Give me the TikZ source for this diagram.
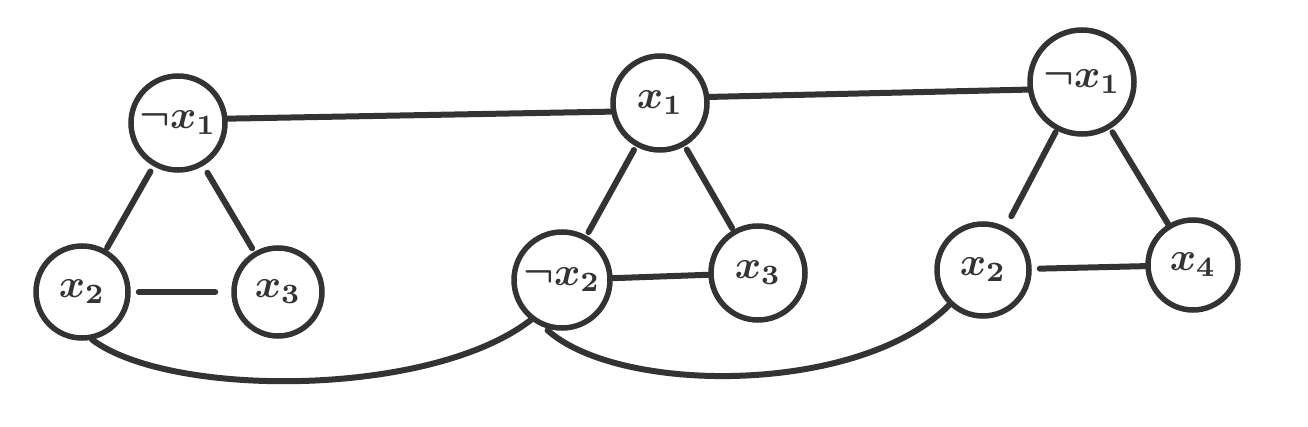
\documentclass[tikz,border=0pt]{standalone}
\usetikzlibrary{calc}
\definecolor{ink}{HTML}{333333}
\newcommand{\lbl}[1]{\scalebox{4}{\boldmath$#1$}}
\begin{document}
\begin{tikzpicture}[x=1pt,y=1pt,
  vnode/.style={circle,draw=ink,line width=5.5pt,inner sep=0pt,text=ink},
  edge/.style={draw=ink,line width=6pt,line cap=round}]
\useasboundingbox (0,0) rectangle (1308,426);
% triangle 1
\node[vnode,minimum size=94pt] (na1) at (178,303) {\lbl{\neg x_1}};
\node[vnode,minimum size=92pt] (x2a) at (82,134) {\lbl{x_2}};
\node[vnode,minimum size=88pt] (x3a) at (278,134) {\lbl{x_3}};
% triangle 2
\node[vnode,minimum size=94pt] (x1b) at (660,323) {\lbl{x_1}};
\node[vnode,minimum size=96pt] (nx2b) at (562,146) {\lbl{\neg x_2}};
\node[vnode,minimum size=94pt] (x3b) at (758,153) {\lbl{x_3}};
% triangle 3
\node[vnode,minimum size=104pt] (na1c) at (1082,344) {\lbl{\neg x_1}};
\node[vnode,minimum size=92pt] (x2c) at (983,156) {\lbl{x_2}};
\node[vnode,minimum size=90pt] (x4c) at (1193,161) {\lbl{x_4}};
% triangle edges
\draw[edge,shorten <=6pt,shorten >=2pt] (na1) -- (x2a);
\draw[edge,shorten <=8pt,shorten >=4pt] (na1) -- (x3a);
\draw[edge,shorten <=8pt,shorten >=16pt] (x2a) -- (x3a);
\draw[edge,shorten <=4pt,shorten >=4pt] (x1b) -- (nx2b);
\draw[edge,shorten <=4pt,shorten >=2pt] (x1b) -- (x3b);
\draw[edge] (nx2b) -- (x3b);
\draw[edge,shorten <=2pt,shorten >=12pt] (na1c) -- (x2c);
\draw[edge,shorten <=4pt] (na1c) -- (x4c);
\draw[edge,shorten <=8pt] (x2c) -- (x4c);
% top connectors
\draw[edge] (na1.5) -- (x1b.190);
\draw[edge] (x1b.7) -- (na1c.188);
% bottom curves
\draw[edge] (x2a.-78) .. controls (170,28) and (430,28) .. (nx2b.-128);
\draw[edge,shorten <=4pt] (nx2b.-110) .. controls (620,31) and (860,31) .. (x2c.-134);
\end{tikzpicture}
\end{document}
